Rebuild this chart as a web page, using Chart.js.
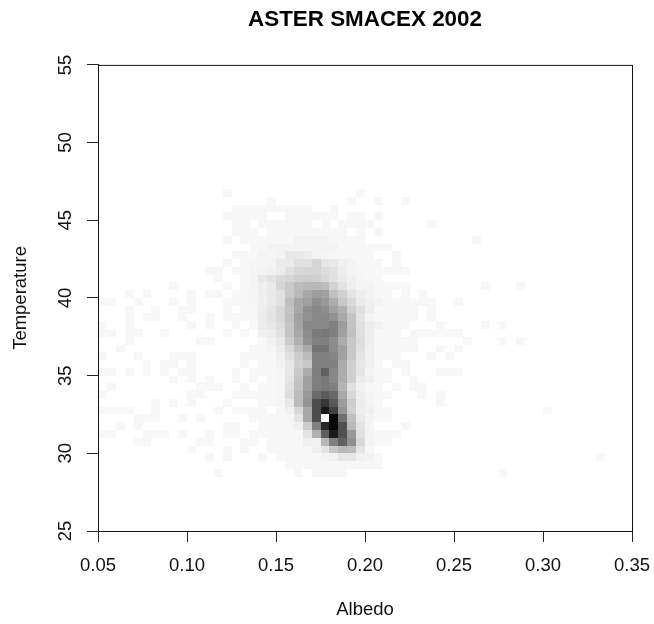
<!DOCTYPE html>
<html>
<head>
<meta charset="utf-8">
<style>
  body { margin: 0; background: #fff; }
  canvas { display: block; }
</style>
<script src="https://cdn.jsdelivr.net/npm/chart.js@4/dist/chart.umd.min.js"></script>
</head>
<body>
<canvas id="chart" width="654" height="624"></canvas>
<script>
const chartTitle = "ASTER SMACEX 2002";
const xLabel = "Albedo";
const yLabel = "Temperature";
const xTicks = [0.05, 0.1, 0.15, 0.2, 0.25, 0.3, 0.35];
const yTicks = [25, 30, 35, 40, 45, 50, 55];

// each bin is 0.005 albedo wide and 0.5 degrees tall
const binWidth = 0.005;
const binHeight = 0.5;

const albedoBins = [
  0.05, 0.055, 0.06, 0.065, 0.07, 0.075, 0.08, 0.085, 0.09, 0.095,
  0.1, 0.105, 0.11, 0.115, 0.12, 0.125, 0.13, 0.135, 0.14, 0.145,
  0.15, 0.155, 0.16, 0.165, 0.17, 0.175, 0.18, 0.185, 0.19, 0.195,
  0.2, 0.205, 0.21, 0.215, 0.22, 0.225, 0.23, 0.235, 0.24, 0.245,
  0.25, 0.255, 0.26, 0.265, 0.27, 0.275, 0.28, 0.285, 0.29, 0.295,
  0.3, 0.305, 0.31, 0.315, 0.32, 0.325, 0.33, 0.335, 0.34, 0.345
];

const temperatureBins = [
  46.5, 46, 45.5, 45, 44.5, 44, 43.5, 43, 42.5, 42,
  41.5, 41, 40.5, 40, 39.5, 39, 38.5, 38, 37.5, 37,
  36.5, 36, 35.5, 35, 34.5, 34, 33.5, 33, 32.5, 32,
  31.5, 31, 30.5, 30, 29.5, 29, 28.5
];

// one row per temperature bin, one value per albedo bin (darkness 0-255)
const densityRows = [
  [0,0,0,0,0,0,0,0,0,0, 0,0,0,0,8,0,0,0,0,0, 0,0,0,0,0,0,0,0,0,8],
  [0,0,0,0,0,0,0,0,0,0, 0,0,0,0,0,0,0,0,0,8, 0,0,0,0,0,0,0,0,8,0, 0,8,0,0,8],
  [0,0,0,0,0,0,0,0,0,0, 0,0,0,0,0,8,8,8,8,8, 8,8,8,8,0,0,8],
  [0,0,0,0,0,0,0,0,0,0, 0,0,0,0,8,8,8,8,8,0, 0,8,8,8,8,8,8,0,8,8, 0,8],
  [0,0,0,0,0,0,0,0,0,0, 0,0,0,0,0,8,8,0,8,8, 8,8,8,8,0,8,0,8,8,8, 8,0,0,0,0,0,0,8],
  [0,0,0,0,0,0,0,0,0,0, 0,0,0,0,0,8,8,8,0,8, 8,8,8,8,8,8,8,8,0,8, 0,8],
  [0,0,0,0,0,0,0,0,0,0, 0,0,0,0,8,0,8,8,8,8, 8,8,12,12,12,12,8,8,8,8, 0,0,0,0,0,0,0,0,0,0, 0,0,8],
  [0,0,0,0,0,0,0,0,0,0, 0,0,0,0,0,0,0,8,8,12, 12,12,12,12,12,12,12,8,8,8, 8,8,8],
  [0,0,0,0,0,0,0,0,0,0, 0,0,0,0,0,8,8,8,11,10, 12,23,23,19,12,10,8,8,8,8, 8,0,0,8],
  [0,0,0,0,0,0,0,0,0,0, 0,0,0,0,8,0,8,10,10,11, 21,21,31,31,42,26,23,15,11,8, 8,8,0,8],
  [0,0,0,0,0,0,0,0,0,0, 0,0,8,8,0,8,8,11,13,15, 18,31,40,42,41,35,30,18,11,9, 8,8,8,8,8],
  [0,0,0,0,0,0,0,0,0,0, 0,0,0,8,0,0,8,11,22,29, 38,42,47,49,47,39,29,21,15,10, 8,8],
  [0,0,0,0,0,0,0,0,8,0, 0,0,0,0,8,0,8,11,15,21, 42,54,68,71,71,67,45,28,17,10, 11,8,8,8,8,0,0,0,0,0, 0,0,0,8,0,0,0,8],
  [0,0,0,8,0,8,0,0,0,0, 8,0,8,8,0,8,8,10,17,22, 31,55,71,87,98,95,63,47,27,17, 13,8,8,0,8,0,8],
  [8,8,0,0,8,0,0,0,8,0, 8,0,0,0,8,8,8,10,15,22, 31,63,87,95,113,103,83,55,39,21, 15,12,8,8,8,8,8,8,0,0, 8],
  [0,0,0,8,0,0,8,0,0,8, 8,0,0,0,8,0,8,9,17,25, 39,59,87,111,119,115,95,79,47,31, 17,8,8,8,8,8,0,8],
  [0,0,0,8,0,8,8,0,0,8, 0,0,8,0,8,8,8,9,21,27, 39,63,95,111,119,119,109,87,59,27, 11,8,8,8,8,8,0,8],
  [8,0,0,8,0,0,0,0,0,0, 8,0,8,0,0,8,0,8,19,23, 35,59,91,119,119,119,127,99,59,31, 17,13,8,8,8,0,0,0,8,0, 0,0,0,8,0,8],
  [8,8,0,8,8,0,0,8,0,0, 0,0,0,0,8,0,8,0,16,17, 31,59,87,115,131,135,127,95,63,31, 17,8,8,8,0,8,8,8,8,8, 8],
  [0,0,0,8,0,0,0,0,0,0, 0,8,8,0,0,0,0,0,8,15, 23,51,79,111,127,127,115,83,55,35, 17,8,8,8,8,8,0,0,0,0, 0,8,0,0,0,8,0,8],
  [0,0,8,0,0,0,0,0,0,0, 0,0,0,0,0,0,0,8,8,11, 19,39,63,87,139,139,115,95,55,31, 15,8,8,8,8,8,0,0,8,0, 8],
  [8,0,0,0,8,0,0,0,8,8, 8,0,0,0,0,0,8,8,8,8, 15,31,51,67,127,127,123,95,55,27, 15,8,8,8,0,0,0,8,0,8],
  [0,0,0,0,0,8,0,8,8,0, 8,0,0,0,0,0,8,0,8,8, 13,23,47,55,127,127,127,83,47,23, 15,8,0,8,8],
  [8,8,0,8,0,8,0,8,0,8, 8,0,0,0,0,8,0,8,8,8, 10,23,55,83,129,159,119,83,47,27, 10,8,8,0,8,0,0,0,8,8, 8],
  [0,0,0,0,0,0,0,0,8,0, 8,0,8,0,0,8,0,8,0,8, 10,27,59,95,127,135,119,83,47,19, 15,8,8,0,0,8],
  [0,8,0,0,0,0,0,0,0,0, 0,8,8,8,0,0,8,0,8,8, 10,31,63,95,129,133,127,75,31,13, 9,8,0,8,0,8,8],
  [8,0,0,0,0,0,0,0,0,0, 8,8,0,0,0,8,8,8,8,8, 10,35,67,103,147,163,151,87,39,17, 10,8,8,0,0,0,8,0,8],
  [0,0,0,0,0,0,8,0,8,0, 8,0,0,0,8,0,0,0,8,8, 9,23,67,107,179,199,167,99,51,19, 10,8,0,0,0,0,0,0,8],
  [8,8,8,8,0,0,8,0,0,0, 0,0,0,8,0,8,8,8,8,0, 8,15,39,87,179,231,191,107,47,17, 15,8,8,0,0,0,0,0,0,0, 0,0,0,0,0,0,0,0,0,0, 8],
  [0,0,0,0,8,8,8,0,0,8, 0,8,0,0,0,0,0,8,8,8, 8,9,27,87,179,0,247,143,63,21, 11,8,8],
  [0,0,8,0,8,0,0,0,0,0, 0,0,0,0,8,8,0,0,8,8, 8,8,15,51,127,215,247,175,71,27, 11,0,0,0,8],
  [8,8,0,0,0,8,8,8,0,8, 0,0,8,0,8,8,0,8,8,8, 8,8,8,27,79,159,227,175,103,31, 11,8,8,8],
  [0,0,0,0,8,8,0,0,0,0, 0,8,8,0,0,0,8,8,0,8, 8,8,8,15,15,71,127,159,111,39, 11,8,8],
  [0,0,0,0,0,0,0,0,0,0, 8,0,0,0,8,0,8,0,0,8, 8,8,8,8,15,27,55,71,67,27, 8],
  [0,0,0,0,0,0,0,0,0,0, 0,0,8,0,8,0,0,0,8,0, 8,8,8,8,8,11,15,25,25,15, 13,8,0,0,0,0,0,0,0,0, 0,0,0,0,0,0,0,0,0,0, 0,0,0,0,0,0,8],
  [0,0,0,0,0,0,0,0,0,0, 0,0,0,0,0,0,0,0,0,0, 0,8,8,8,8,8,8,8,8,8, 8,8],
  [0,0,0,0,0,0,0,0,0,0, 0,0,0,8,0,0,0,0,0,0, 0,0,8,0,8,8,8,8,0,0, 0,0,0,0,0,0,0,0,0,0, 0,0,0,0,0,8]
];

const cells = [];
densityRows.forEach((row, r) => {
  row.forEach((v, c) => {
    if (v > 0) cells.push({ x: albedoBins[c], y: temperatureBins[r], v });
  });
});

// chart.js has no heatmap, so paint the bins through the scales
const binPainter = {
  id: "binPainter",
  beforeDatasetsDraw(chart) {
    const { ctx, scales } = chart;
    ctx.save();
    chart.data.datasets[0].data.forEach((cell) => {
      const left = Math.round(scales.x.getPixelForValue(cell.x));
      const right = Math.round(scales.x.getPixelForValue(cell.x + binWidth));
      const bottom = Math.round(scales.y.getPixelForValue(cell.y));
      const top = Math.round(scales.y.getPixelForValue(cell.y + binHeight));
      const shade = 255 - cell.v;
      ctx.fillStyle = `rgb(${shade},${shade},${shade})`;
      ctx.fillRect(left, top, right - left, bottom - top);
    });
    ctx.restore();
  },
  afterDraw(chart) {
    const { ctx, chartArea } = chart;
    ctx.save();
    ctx.strokeStyle = "#111";
    ctx.lineWidth = 1;
    ctx.strokeRect(
      chartArea.left + 0.5,
      chartArea.top + 0.5,
      chartArea.width,
      chartArea.height
    );
    ctx.restore();
  },
};

const fontFamily = "'Liberation Sans', Arial, sans-serif";

new Chart(document.getElementById("chart"), {
  type: "scatter",
  data: {
    datasets: [{ data: cells, pointRadius: 0, pointHoverRadius: 0 }],
  },
  plugins: [binPainter],
  options: {
    responsive: false,
    animation: false,
    layout: { padding: { left: 6, right: 22, top: 6, bottom: 3 } },
    plugins: {
      legend: { display: false },
      tooltip: { enabled: false },
      title: {
        display: true,
        text: chartTitle,
        fullSize: false,
        color: "#000",
        font: { family: fontFamily, size: 22.4, weight: "bold" },
        padding: { top: 0, bottom: 32 },
      },
    },
    scales: {
      x: {
        type: "linear",
        min: 0.05,
        max: 0.35,
        afterFit: (scale) => {
          scale.height = 90;
          scale.paddingLeft = 0;
          scale.paddingRight = 0;
        },
        afterBuildTicks: (scale) => { scale.ticks = xTicks.map((value) => ({ value })); },
        grid: { drawOnChartArea: false, tickLength: 11, color: "#222", tickWidth: 1 },
        border: { color: "#111" },
        ticks: {
          color: "#111",
          padding: 13,
          maxRotation: 0,
          font: { family: fontFamily, size: 18.5 },
          callback: (value) => value.toFixed(2),
        },
        title: {
          display: true,
          text: xLabel,
          color: "#111",
          font: { family: fontFamily, size: 18.5 },
          padding: { top: 0, bottom: 0 },
        },
      },
      y: {
        type: "linear",
        min: 25,
        max: 55,
        afterFit: (scale) => {
          scale.width = 92;
          scale.paddingTop = 0;
          scale.paddingBottom = 0;
        },
        afterBuildTicks: (scale) => { scale.ticks = yTicks.map((value) => ({ value })); },
        grid: { drawOnChartArea: false, tickLength: 11, color: "#222", tickWidth: 1 },
        border: { color: "#111" },
        ticks: {
          color: "#111",
          padding: 11,
          minRotation: 90,
          maxRotation: 90,
          crossAlign: "center",
          font: { family: fontFamily, size: 18.5 },
        },
        title: {
          display: true,
          text: yLabel,
          color: "#111",
          font: { family: fontFamily, size: 18.5 },
        },
      },
    },
  },
});
</script>
</body>
</html>
